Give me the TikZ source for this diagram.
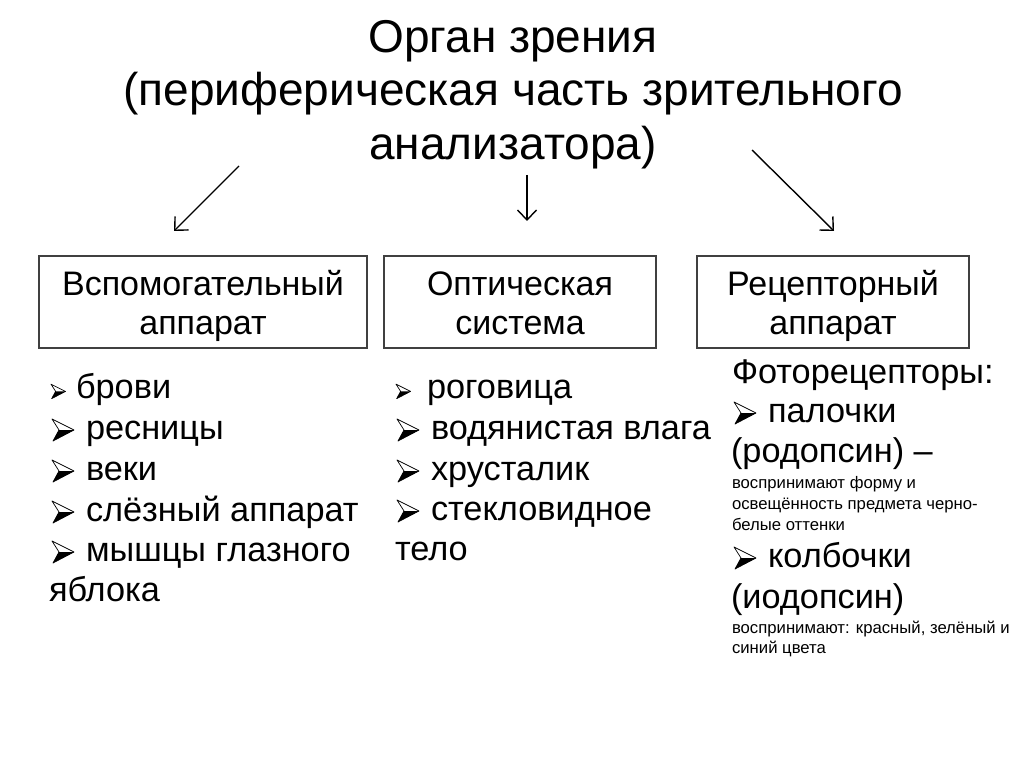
\documentclass[tikz,border=0pt]{standalone}
\usepackage{fontspec}
\setmainfont{Liberation Sans}
\usetikzlibrary{arrows.meta}
\tikzset{
  every node/.style={inner sep=0pt, outer sep=0pt},
  titletext/.style={anchor=base, font=\fontsize{46}{53}\selectfont},
  boxframe/.style={draw=black!75, line width=1.2pt, minimum height=92pt},
  boxtext/.style={anchor=base, font=\fontsize{34}{40}\selectfont},
  item/.style={anchor=base west, font=\fontsize{34.3}{40}\selectfont},
  note/.style={anchor=base west, font=\fontsize{16.7}{20}\selectfont},
  conn/.style={line width=1.4pt, -{Straight Barb[length=10pt,width=19pt,line width=1.4pt]}},
  arrbul/.pic={
    \fill[black] (7,-10) -- (22,-10) -- (1,1) -- cycle;
    \draw[line width=0.7pt, line join=round] (0,-21) -- (22,-10) -- (1,1) -- (7,-10) -- cycle;
  },
  smallbul/.style={scale=0.66},
  bigbul/.style={scale=1.0}
}
\begin{document}
\begin{tikzpicture}[x=1pt,y=-1pt]
\useasboundingbox[fill=white] (0,0) rectangle (1024,767);
% title
\node[titletext] (t1) at (513,53) {Орган зрения};
\node[titletext] (t2) at (513,106) {(периферическая часть зрительного};
\node[titletext] (t3) at (513,160) {анализатора)};
% arrows
\coordinate (a1s) at (239,166); \coordinate (a1e) at (174,231);
\coordinate (a2s) at (527,175); \coordinate (a2e) at (527,221);
\coordinate (a3s) at (752,150); \coordinate (a3e) at (834,231);
\draw[conn] (a1s) -- (a1e);
\draw[conn] (a2s) -- (a2e);
\draw[conn] (a3s) -- (a3e);
% boxes
\node[boxframe, minimum width=328pt] (b1) at (203,302) {};
\node[boxframe, minimum width=272pt] (b2) at (520,302) {};
\node[boxframe, minimum width=272pt] (b3) at (833,302) {};
\node[boxtext] (b1a) at (203,295) {Вспомогательный};
\node[boxtext] (b1b) at (203,334) {аппарат};
\node[boxtext] (b2a) at (520,295) {Оптическая};
\node[boxtext] (b2b) at (520,334) {система};
\node[boxtext] (b3a) at (833,295) {Рецепторный};
\node[boxtext] (b3b) at (833,334) {аппарат};
% left list
\pic[smallbul] (l1b) at (51,398) {arrbul};
\node[item] (l1) at (76,398) {брови};
\pic[bigbul] (l2b) at (52,440) {arrbul};
\node[item] (l2) at (86,439) {ресницы};
\pic[bigbul] (l3b) at (52,481) {arrbul};
\node[item] (l3) at (86,480) {веки};
\pic[bigbul] (l4b) at (52,522) {arrbul};
\node[item] (l4) at (86,521) {слёзный аппарат};
\pic[bigbul] (l5b) at (52,562) {arrbul};
\node[item] (l5) at (86,561) {мышцы глазного};
\node[item] (l6) at (49,601) {яблока};
% middle list
\pic[smallbul] (m1b) at (396,398) {arrbul};
\node[item] (m1) at (427,398) {роговица};
\pic[bigbul] (m2b) at (397,440) {arrbul};
\node[item] (m2) at (431,439) {водянистая влага};
\pic[bigbul] (m3b) at (397,481) {arrbul};
\node[item] (m3) at (431,480) {хрусталик};
\pic[bigbul] (m4b) at (397,521) {arrbul};
\node[item] (m4) at (431,520) {стекловидное};
\node[item] (m5) at (395,560) {тело};
% right list
\node[item] (r0) at (732,383) {Фоторецепторы:};
\pic[bigbul] (r1b) at (734,423) {arrbul};
\node[item] (r1) at (768,422) {палочки};
\node[item] (r2) at (731,462) {(родопсин) –};
\node[note] (r3) at (732,488) {воспринимают форму и};
\node[note] (r4) at (732,509) {освещённость предмета черно-};
\node[note] (r5) at (732,530) {белые оттенки};
\pic[bigbul] (r6b) at (734,568) {arrbul};
\node[item] (r6) at (768,567) {колбочки};
\node[item] (r7) at (731,608) {(иодопсин)};
\node[note] (r8) at (732,633) {воспринимают: красный, зелёный и};
\node[note] (r9) at (732,653) {синий цвета};
\end{tikzpicture}
\end{document}
